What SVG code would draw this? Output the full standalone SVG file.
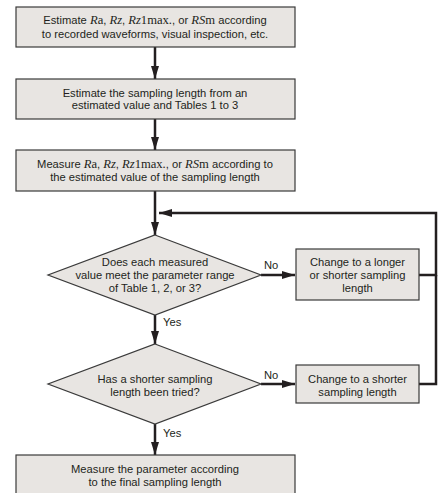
<svg xmlns="http://www.w3.org/2000/svg" width="443" height="493" viewBox="0 0 443 493">
<style>
.box{fill:#e8e5e2;stroke:#3a3a3a;stroke-width:1.2}
.t{font-family:"Liberation Sans",Arial,sans-serif;font-size:11.2px;fill:#231f20;text-anchor:middle}
.l{text-anchor:start}
.s{font-family:"Liberation Serif","Times New Roman",serif;font-size:12.6px}
.i{font-style:italic}
.ln{fill:none;stroke:#231f20;stroke-width:2.5}
</style>
<defs>
<marker id="ah" markerWidth="14" markerHeight="10" refX="13" refY="4" orient="auto" markerUnits="userSpaceOnUse">
<path d="M0,0 L13,4 L0,8 Z" fill="#231f20"/>
</marker>
</defs>
<rect width="443" height="493" fill="#fff"/>
<g id="connectors">
<line class="ln" x1="155" y1="47" x2="155" y2="79" marker-end="url(#ah)"/>
<line class="ln" x1="155" y1="119" x2="155" y2="150" marker-end="url(#ah)"/>
<line class="ln" x1="155" y1="191" x2="155" y2="235" marker-end="url(#ah)"/>
<polyline class="ln" points="419,275 436,275 436,213 159,213" marker-end="url(#ah)"/>
<polyline class="ln" points="419,384 436,384 436,275"/>
<line class="ln" x1="261" y1="275" x2="295" y2="275" marker-end="url(#ah)"/>
<line class="ln" x1="155" y1="315" x2="155" y2="344" marker-end="url(#ah)"/>
<line class="ln" x1="261" y1="384" x2="295" y2="384" marker-end="url(#ah)"/>
<line class="ln" x1="155" y1="424" x2="155" y2="455" marker-end="url(#ah)"/>
<text class="t l" x="264" y="269">No</text>
<text class="t l" x="163" y="326">Yes</text>
<text class="t l" x="264" y="379">No</text>
<text class="t l" x="163" y="437">Yes</text>
</g>
<g id="n1">
<rect class="box" x="16" y="7" width="279" height="40"/>
<text class="t" x="155" y="24">Estimate <tspan class="s i">R</tspan><tspan class="s">a</tspan>, <tspan class="s i">Rz</tspan>, <tspan class="s i">Rz</tspan><tspan class="s">1max.</tspan>, or <tspan class="s i">RS</tspan><tspan class="s">m</tspan> according</text>
<text class="t" x="155" y="37.5">to recorded waveforms, visual inspection, etc.</text>
</g>
<g id="n2">
<rect class="box" x="16" y="79" width="279" height="40"/>
<text class="t" x="155" y="96.5">Estimate the sampling length from an</text>
<text class="t" x="155" y="108.5">estimated value and Tables 1 to 3</text>
</g>
<g id="n3">
<rect class="box" x="16" y="150" width="279" height="41"/>
<text class="t" x="155" y="168">Measure <tspan class="s i">R</tspan><tspan class="s">a</tspan>, <tspan class="s i">Rz</tspan>, <tspan class="s i">Rz</tspan><tspan class="s">1max.</tspan>, or <tspan class="s i">RS</tspan><tspan class="s">m</tspan> according to</text>
<text class="t" x="155" y="180.5">the estimated value of the sampling length</text>
</g>
<g id="d1">
<polygon class="box" points="155,235 261,275 155,315 48,275"/>
<text class="t" x="155" y="266">Does each measured</text>
<text class="t" x="155" y="279">value meet the parameter range</text>
<text class="t" x="155" y="292">of Table 1, 2, or 3?</text>
</g>
<g id="n4">
<rect class="box" x="296" y="249" width="123" height="51"/>
<text class="t" x="357.5" y="266">Change to a longer</text>
<text class="t" x="357.5" y="279">or shorter sampling</text>
<text class="t" x="357.5" y="292">length</text>
</g>
<g id="d2">
<polygon class="box" points="155,344 261,384 155,424 48,384"/>
<text class="t" x="155" y="383">Has a shorter sampling</text>
<text class="t" x="155" y="396">length been tried?</text>
</g>
<g id="n5">
<rect class="box" x="296" y="365" width="123" height="38"/>
<text class="t" x="357.5" y="383">Change to a shorter</text>
<text class="t" x="357.5" y="396">sampling length</text>
</g>
<g id="n6">
<rect class="box" x="16" y="455" width="279" height="45"/>
<text class="t" x="155" y="473">Measure the parameter according</text>
<text class="t" x="155" y="486">to the final sampling length</text>
</g>
</svg>
